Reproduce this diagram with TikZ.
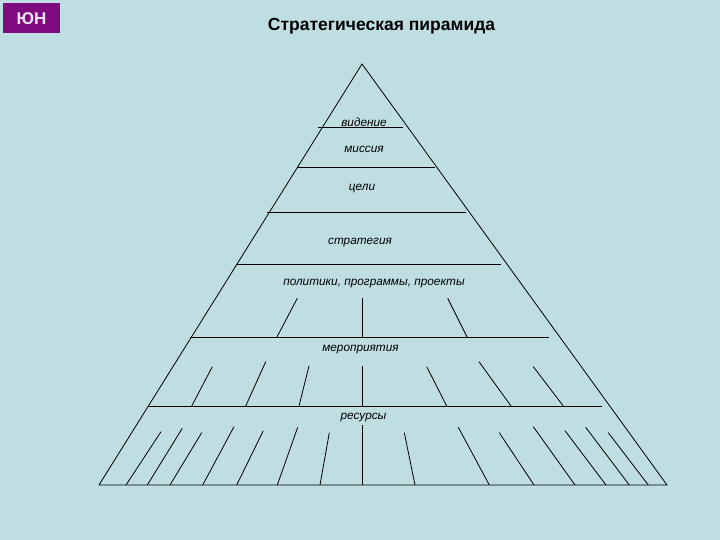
\documentclass[tikz,border=0pt]{standalone}
\usepackage{fontspec}
\setmainfont{Liberation Sans}
\definecolor{bg}{RGB}{191,222,226}
\definecolor{boxc}{RGB}{128,10,128}
\definecolor{boxt}{RGB}{240,225,245}
\begin{document}
\begin{tikzpicture}[x=1pt,y=-1pt,
  ln/.style={line width=0.8pt,black},
  lbl/.style={font=\fontsize{11.8}{13}\selectfont\itshape,inner sep=0pt,anchor=base}]
\fill[bg] (0,0) rectangle (720,540);
\useasboundingbox (0,0) rectangle (720,540);
% badge
\node[fill=boxc,minimum width=57pt,minimum height=30pt,inner sep=0pt,text=boxt,
  font=\fontsize{17}{18}\selectfont\bfseries] (badge) at (31.5,18.3) {ЮН};
\node[font=\fontsize{17.5}{19}\selectfont\bfseries,inner sep=0pt,anchor=base] (title) at (381.5,30.5) {Стратегическая пирамида};
% pyramid
\coordinate (apex) at (362,64);
\coordinate (bl) at (99,485);
\coordinate (br) at (667,485);
\draw[ln] (bl) -- (apex) -- (br) -- cycle;
% horizontal levels
\draw[ln] (318,127) -- (403,127);
\draw[ln] (298,167) -- (435,167);
\draw[ln] (267,212) -- (466,212);
\draw[ln] (236,264) -- (501,264);
\draw[ln] (190,337.5) -- (549,337.5);
\draw[ln] (148,406) -- (602,406);
% labels
\node[lbl] (l1) at (364,126.5) {видение};
\node[lbl] (l2) at (364,152.5) {миссия};
\node[lbl] (l3) at (362,191) {цели};
\node[lbl] (l4) at (360,244.5) {стратегия};
\node[lbl] (l5) at (374,285) {политики, программы, проекты};
\node[lbl] (l6) at (360.5,351.5) {мероприятия};
\node[lbl] (l7) at (363.5,419) {ресурсы};
% branches under политики
\draw[ln] (297.3,298.3) -- (276.7,337.5);
\draw[ln] (362.3,297.7) -- (362.3,337.5);
\draw[ln] (447.7,298.3) -- (467.3,337.5);
% branches under мероприятия
\foreach \a/\b/\c/\d in {212.3/366.7/191.7/406, 265.7/361.7/245.7/406, 309/366/299/406,
  362.7/366/362.7/406, 426.7/366.7/446.7/406, 479/361.7/511/406, 533.3/366.7/563.3/406}
  \draw[ln] (\a,\b) -- (\c,\d);
% branches under ресурсы
\foreach \a/\b/\c/\d in {161/431.7/126/485, 182.3/428.3/147.3/485, 201.7/432.7/170/485,
  234/426.7/202.7/485, 263.3/430.7/236.7/485, 297.7/427.3/277.3/485, 329.3/432.7/320/485,
  362.7/425/362.7/485, 404.3/432.7/415/485, 458.3/427.3/489.3/485, 499.3/432.7/534/485,
  533.3/426.7/575/485, 565/430.7/606/485, 585.7/427.3/629.3/485, 608.3/432.7/648.3/485}
  \draw[ln] (\a,\b) -- (\c,\d);
\end{tikzpicture}
\end{document}
